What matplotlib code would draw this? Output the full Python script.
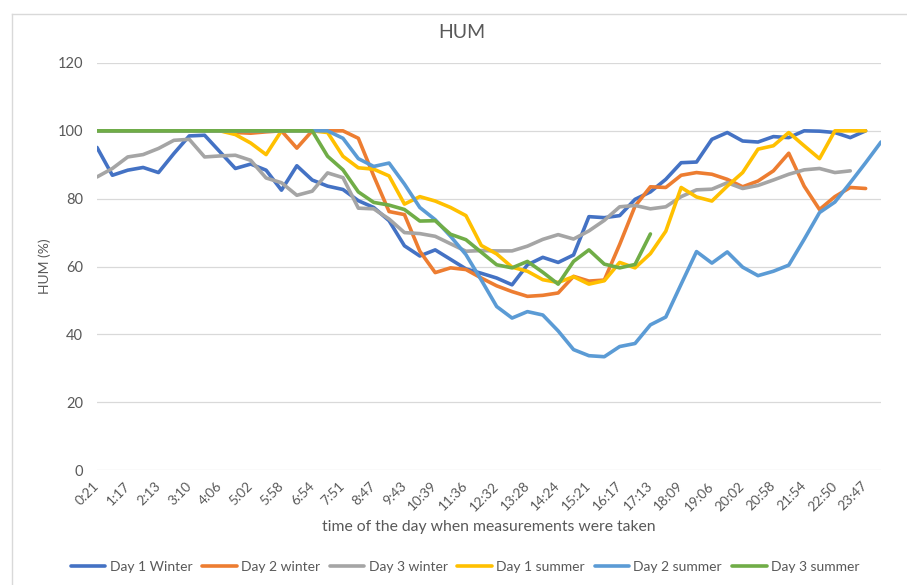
import numpy as np
import matplotlib
matplotlib.use("Agg")
import matplotlib.pyplot as plt
from matplotlib.lines import Line2D

plt.rcParams['font.family'] = ['Lato', 'DejaVu Sans']

# ---- data ----
tick_labels = ["0:21", "1:17", "2:13", "3:10", "4:06", "5:02", "5:58", "6:54", "7:51",
               "8:47", "9:43", "10:39", "11:36", "12:32", "13:28", "14:24", "15:21",
               "16:17", "17:13", "18:09", "19:06", "20:02", "20:58", "21:54", "22:50", "23:47"]
n_categories = 52

day1_winter = [95.1, 86.9, 88.4, 89.2, 87.7, 93.3, 98.5, 98.7, 93.8, 88.9, 90.2, 88.4, 82.5,
               89.7, 85.5, 83.7, 82.7, 79.4, 77.4, 73.5, 66.1, 63.1, 64.9, 62.1, 59.3, 58.0,
               56.6, 54.6, 60.5, 62.7, 61.2, 63.4, 74.7, 74.4, 75.0, 79.8, 82.0, 85.7, 90.6,
               90.8, 97.5, 99.5, 97.0, 96.7, 98.3, 98.0, 100, 99.9, 99.5, 98.0, 100]
day2_winter = [100, 100, 100, 100, 100, 100, 100, 100, 100, 99.5, 99.3, 99.7, 100, 94.9, 100,
               100, 100, 97.8, 86.7, 76.2, 75.3, 64.5, 58.2, 59.6, 59.1, 56.6, 54.3, 52.6,
               51.2, 51.5, 52.2, 57.1, 55.7, 56.0, 66.5, 77.8, 83.5, 83.3, 86.9, 87.7, 87.2,
               85.7, 83.5, 85.2, 88.2, 93.4, 83.7, 76.8, 80.6, 83.3, 83.0]
day3_winter = [86.4, 88.9, 92.3, 93.0, 94.8, 97.2, 97.5, 92.3, 92.6, 92.8, 91.3, 86.1, 84.7,
               81.0, 82.2, 87.6, 86.2, 77.2, 77.0, 74.0, 70.0, 69.7, 68.9, 66.7, 64.5, 64.7,
               64.6, 64.6, 66.0, 68.0, 69.4, 68.1, 70.5, 73.6, 77.6, 78.0, 77.0, 77.6, 80.6,
               82.6, 82.8, 84.7, 83.0, 83.9, 85.5, 87.2, 88.5, 88.9, 87.7, 88.2]
day1_summer = [100, 100, 100, 100, 100, 100, 100, 100, 100, 98.9, 96.4, 93.0, 100, 100, 100,
               99.5, 92.5, 89.1, 88.7, 86.7, 78.4, 80.6, 79.3, 77.4, 75.0, 66.2, 63.7, 59.8,
               58.6, 56.1, 55.3, 57.0, 54.8, 55.8, 61.2, 59.6, 63.8, 70.4, 83.3, 80.5, 79.3,
               83.7, 87.7, 94.6, 95.6, 99.5, 95.6, 91.8, 100, 100, 100]
day2_summer = [100, 100, 100, 100, 100, 100, 100, 100, 100, 100, 100, 100, 100, 100, 100, 100,
               97.8, 91.8, 89.5, 90.5, 84.3, 77.4, 73.8, 68.9, 63.5, 56.0, 48.2, 44.8, 46.7,
               45.7, 41.0, 35.5, 33.7, 33.4, 36.4, 37.3, 42.8, 45.1, 54.8, 64.4, 61.0, 64.3,
               59.8, 57.3, 58.6, 60.4, 68.0, 75.9, 79.0, 84.7, 90.6, 96.7]
day3_summer = [100, 100, 100, 100, 100, 100, 100, 100, 100, 100, 100, 100, 100, 100, 100,
               92.5, 88.5, 82.0, 78.9, 78.1, 76.8, 73.4, 73.5, 69.5, 67.9, 64.2, 60.5, 59.6,
               61.5, 58.3, 54.8, 61.5, 64.9, 60.7, 59.6, 60.6, 69.6]

series_names = ["Day 1 Winter", "Day 2 winter", "Day 3 winter",
                "Day 1 summer", "Day 2 summer", "Day 3 summer"]
series_values = [day1_winter, day2_winter, day3_winter, day1_summer, day2_summer, day3_summer]
colors = ["#4472C4", "#ED7D31", "#A5A5A5", "#FFC000", "#5B9BD5", "#70AD47"]

W, H = 907, 585
fig = plt.figure(figsize=(W / 100, H / 100), dpi=100)
ax = fig.add_axes([97 / W, 1 - 470 / H, (881 - 97) / W, (470 - 63) / H])

text_col = "#595959"
grid_col = "#D9D9D9"

for name, vals, c in zip(series_names, series_values, colors):
    ax.plot(np.arange(len(vals)), vals, color=c, lw=2.6, label=name,
            solid_joinstyle='round', solid_capstyle='round')

ax.set_xlim(0, n_categories - 1)
ax.set_ylim(0, 120)
ax.set_yticks(np.arange(0, 121, 20))
ax.yaxis.grid(True, color=grid_col, lw=0.9)
ax.set_axisbelow(True)
for s in ax.spines.values():
    s.set_visible(False)

ax.set_xticks(np.arange(0, 2 * len(tick_labels), 2))
ax.set_xticklabels(tick_labels, rotation=45, ha='right', va='center',
                   rotation_mode='anchor', fontsize=9.8, color=text_col)
ax.tick_params(axis='x', length=0, pad=10)
ax.tick_params(axis='y', length=0, pad=10, labelsize=10.5, labelcolor=text_col)

fig.text(462 / W, 1 - 33 / H, "HUM", ha='center', va='center', fontsize=14, color=text_col)
fig.text(489 / W, 1 - 527 / H, "time of the day when measurements were taken",
         ha='center', va='center', fontsize=11.3, color=text_col)
fig.text(45 / W, 1 - 266 / H, "HUM (%)", ha='center', va='center', rotation=90,
         fontsize=10, color=text_col)

fig.legend(loc='center', bbox_to_anchor=(465 / W, 1 - 567 / H), ncol=6, frameon=False,
           fontsize=10, handlelength=2.5, handletextpad=0.3, columnspacing=0.7,
           labelcolor=text_col)

fig.add_artist(Line2D([12 / W, 12 / W], [0, 1 - 14 / H], transform=fig.transFigure,
                      color=grid_col, lw=1))
fig.add_artist(Line2D([12 / W, 1], [1 - 14 / H, 1 - 14 / H], transform=fig.transFigure,
                      color=grid_col, lw=1))

fig.savefig("out.png", dpi=100)
